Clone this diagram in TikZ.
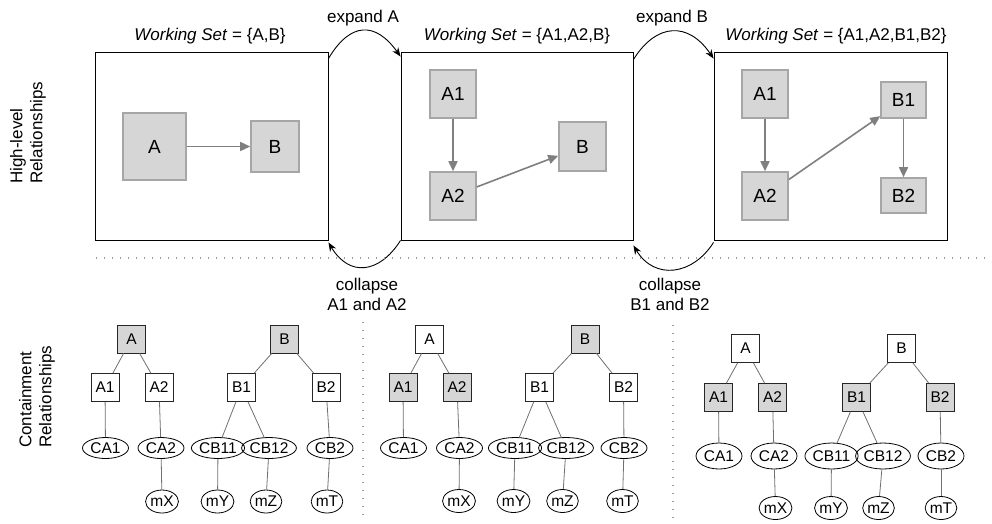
\documentclass[tikz,border=0pt]{standalone}
\usepackage{fontspec}
\setmainfont{Liberation Sans}
\usetikzlibrary{arrows.meta,shapes.geometric}
\definecolor{boxfill}{HTML}{D6D6D6}
\definecolor{boxline}{HTML}{A6A6A6}
\definecolor{arrgray}{HTML}{7F7F7F}
\definecolor{edgegray}{HTML}{707070}
\definecolor{dotgray}{HTML}{9A9A9A}
\begin{document}
\begin{tikzpicture}[x=1pt,y=-1pt,
  frame/.style={draw=black, line width=0.9pt, inner sep=0pt},
  hnode/.style={draw=boxline, fill=boxfill, line width=1.6pt, inner sep=0pt, font=\fontsize{19}{21}\selectfont},
  harr/.style={draw=arrgray, line width=1.6pt, -{Triangle[length=10pt,width=9pt]}},
  tbox/.style={draw=black!85, line width=0.8pt, minimum width=28pt, minimum height=28pt, inner sep=0pt, font=\fontsize{15.5}{15.5}\selectfont},
  tgray/.style={tbox, fill=boxfill},
  tell/.style={ellipse, draw=black, line width=0.8pt, minimum width=46pt, minimum height=21pt, inner sep=0pt, font=\fontsize{15.5}{15.5}\selectfont},
  twide/.style={tell, minimum width=52pt},
  tcirc/.style={ellipse, draw=black, line width=0.8pt, minimum width=28pt, minimum height=23pt, inner sep=0pt, font=\fontsize{15.5}{15.5}\selectfont},
  tedge/.style={draw=edgegray, line width=0.8pt},
  curvarr/.style={draw=black, line width=0.9pt, -{Stealth[length=9pt,width=7pt]}},
  dotline/.style={draw=dotgray, line width=1.3pt, dash pattern=on 1.3pt off 6.7pt},
  lbl/.style={font=\fontsize{17}{20}\selectfont, inner sep=0pt}
]
\useasboundingbox (0,0) rectangle (992,523);

% ---------- side labels ----------
\node[lbl, rotate=90, anchor=west, align=left] (hl) at (28,184) {High-level\\Relationships};
\node[lbl, rotate=90, anchor=west, align=left] (cr) at (37,448) {Containment\\Relationships};

% ---------- working set frames ----------
\node[frame, minimum width=233pt, minimum height=188pt] (hb1) at (211.5,146) {};
\node[frame, minimum width=232pt, minimum height=188pt] (hb2) at (517,146) {};
\node[frame, minimum width=233pt, minimum height=188pt] (hb3) at (830.5,146) {};

\node[lbl, anchor=base] (ws1) at (210,40) {\textit{Working Set} = \{A,B\}};
\node[lbl, anchor=base] (ws2) at (517,40) {\textit{Working Set} = \{A1,A2,B\}};
\node[lbl, anchor=base] (ws3) at (836,40) {\textit{Working Set} = \{A1,A2,B1,B2\}};

% frame 1
\node[hnode, minimum width=63pt, minimum height=67pt] (f1A) at (154.5,146.5) {A};
\node[hnode, minimum width=48pt, minimum height=51pt] (f1B) at (275,146.5) {B};
\draw[harr] (f1A) -- (f1B);

% frame 2
\node[hnode, minimum width=46pt, minimum height=48pt] (f2A1) at (453,94) {A1};
\node[hnode, minimum width=46pt, minimum height=48pt] (f2A2) at (453,196) {A2};
\node[hnode, minimum width=47pt, minimum height=49pt] (f2B) at (582.5,146.5) {B};
\draw[harr] (f2A1) -- (f2A2);
\draw[harr] (f2A2) -- (f2B);

% frame 3
\node[hnode, minimum width=46pt, minimum height=48pt] (f3A1) at (765,94) {A1};
\node[hnode, minimum width=46pt, minimum height=48pt] (f3A2) at (765,196) {A2};
\node[hnode, minimum width=45pt, minimum height=36pt] (f3B1) at (903.5,100) {B1};
\node[hnode, minimum width=45pt, minimum height=35pt] (f3B2) at (903.5,195.5) {B2};
\draw[harr] (f3A1) -- (f3A2);
\draw[harr] (f3A2) -- (f3B1);
\draw[harr] (f3B1) -- (f3B2);

% ---------- expand / collapse ----------
\draw[curvarr] ([yshift=-7pt]hb1.north east) .. controls +(22,-37) and +(-25,-35) .. ([yshift=-5pt]hb2.north west);
\draw[curvarr] (hb2.south west) .. controls +(-21,33) and +(21,35) .. ([yshift=-2pt]hb1.south east);
\draw[curvarr] ([yshift=-8pt]hb2.north east) .. controls +(23,-37) and +(-25,-37) .. ([yshift=-7pt]hb3.north west);
\draw[curvarr] ([yshift=-2pt]hb3.south west) .. controls +(-21,33) and +(21,35) .. ([yshift=-5pt]hb2.south east);

\node[lbl, anchor=base] (exA) at (363,22) {expand A};
\node[lbl, anchor=base] (exB) at (672,22) {expand B};
\node[lbl, align=center] (coA) at (367,294) {collapse\\A1 and A2};
\node[lbl, align=center] (coB) at (670,294) {collapse\\B1 and B2};

% ---------- separators ----------
\draw[dotline] (96,258) -- (990,258);
\draw[dotline] (363,322) -- (363,520);
\draw[dotline] (673,325) -- (673,520);

% ---------- panel 1 ----------
\node[tgray] (p1A) at (131.5,339) {A};
\node[tbox] (p1A1) at (105,387.5) {A1};
\node[tbox] (p1A2) at (159,387.5) {A2};
\node[tgray] (p1B) at (284.5,339) {B};
\node[tbox] (p1B1) at (241.5,387.5) {B1};
\node[tbox] (p1B2) at (326,387.5) {B2};
\node[tell] (p1CA1) at (105.5,448) {CA1};
\node[tell] (p1CA2) at (161,448) {CA2};
\node[twide] (p1CB11) at (218,448) {CB11};
\node[twide] (p1CB12) at (269,448) {CB12};
\node[tell] (p1CB2) at (330,448) {CB2};
\node[tcirc] (p1mX) at (162,501.5) {mX};
\node[tcirc] (p1mY) at (217.5,501.5) {mY};
\node[tcirc] (p1mZ) at (266,501.5) {mZ};
\node[tcirc] (p1mT) at (327,501.5) {mT};
\draw[tedge] (p1A) -- (p1A1);
\draw[tedge] (p1A) -- (p1A2);
\draw[tedge] (p1B) -- (p1B1);
\draw[tedge] (p1B) -- (p1B2);
\draw[tedge] (p1A1) -- (p1CA1);
\draw[tedge] (p1A2) -- (p1CA2);
\draw[tedge] (p1B1) -- (p1CB11);
\draw[tedge] (p1B1) -- (p1CB12);
\draw[tedge] (p1B2) -- (p1CB2);
\draw[tedge] (p1CA2) -- (p1mX);
\draw[tedge] (p1CB11) -- (p1mY);
\draw[tedge] (p1CB12) -- (p1mZ);
\draw[tedge] (p1CB2) -- (p1mT);

% ---------- panel 2 ----------
\node[tbox] (p2A) at (429.5,339) {A};
\node[tgray] (p2A1) at (403,387.5) {A1};
\node[tgray] (p2A2) at (457,387.5) {A2};
\node[tgray] (p2B) at (585,339) {B};
\node[tbox] (p2B1) at (539.5,387.5) {B1};
\node[tbox] (p2B2) at (623.5,387.5) {B2};
\node[tell] (p2CA1) at (403.5,448) {CA1};
\node[tell] (p2CA2) at (459.5,448) {CA2};
\node[twide] (p2CB11) at (515,448) {CB11};
\node[twide] (p2CB12) at (566,448) {CB12};
\node[tell] (p2CB2) at (624,448) {CB2};
\node[tcirc] (p2mX) at (459,501) {mX};
\node[tcirc] (p2mY) at (513.5,501) {mY};
\node[tcirc] (p2mZ) at (562.5,501) {mZ};
\node[tcirc] (p2mT) at (622.5,501) {mT};
\draw[tedge] (p2A) -- (p2A1);
\draw[tedge] (p2A) -- (p2A2);
\draw[tedge] (p2B) -- (p2B1);
\draw[tedge] (p2B) -- (p2B2);
\draw[tedge] (p2A1) -- (p2CA1);
\draw[tedge] (p2A2) -- (p2CA2);
\draw[tedge] (p2B1) -- (p2CB11);
\draw[tedge] (p2B1) -- (p2CB12);
\draw[tedge] (p2B2) -- (p2CB2);
\draw[tedge] (p2CA2) -- (p2mX);
\draw[tedge] (p2CB11) -- (p2mY);
\draw[tedge] (p2CB12) -- (p2mZ);
\draw[tedge] (p2CB2) -- (p2mT);

% ---------- panel 3 ----------
\node[tbox] (p3A) at (745.5,348.5) {A};
\node[tgray] (p3A1) at (718.5,397.5) {A1};
\node[tgray] (p3A2) at (772.5,397.5) {A2};
\node[tbox] (p3B) at (901.5,348.5) {B};
\node[tgray] (p3B1) at (856.5,397.5) {B1};
\node[tgray] (p3B2) at (940,397.5) {B2};
\node[tell, minimum height=26pt] (p3CA1) at (719,456) {CA1};
\node[tell, minimum height=26pt] (p3CA2) at (774,456) {CA2};
\node[twide, minimum height=26pt] (p3CB11) at (831.5,456) {CB11};
\node[twide, minimum height=26pt] (p3CB12) at (883,456) {CB12};
\node[tell, minimum height=26pt] (p3CB2) at (941,456) {CB2};
\node[tcirc] (p3mX) at (775.5,508) {mX};
\node[tcirc] (p3mY) at (831,508) {mY};
\node[tcirc] (p3mZ) at (878.5,508) {mZ};
\node[tcirc] (p3mT) at (941,508) {mT};
\draw[tedge] (p3A) -- (p3A1);
\draw[tedge] (p3A) -- (p3A2);
\draw[tedge] (p3B) -- (p3B1);
\draw[tedge] (p3B) -- (p3B2);
\draw[tedge] (p3A1) -- (p3CA1);
\draw[tedge] (p3A2) -- (p3CA2);
\draw[tedge] (p3B1) -- (p3CB11);
\draw[tedge] (p3B1) -- (p3CB12);
\draw[tedge] (p3B2) -- (p3CB2);
\draw[tedge] (p3CA2) -- (p3mX);
\draw[tedge] (p3CB11) -- (p3mY);
\draw[tedge] (p3CB12) -- (p3mZ);
\draw[tedge] (p3CB2) -- (p3mT);
\end{tikzpicture}
\end{document}
